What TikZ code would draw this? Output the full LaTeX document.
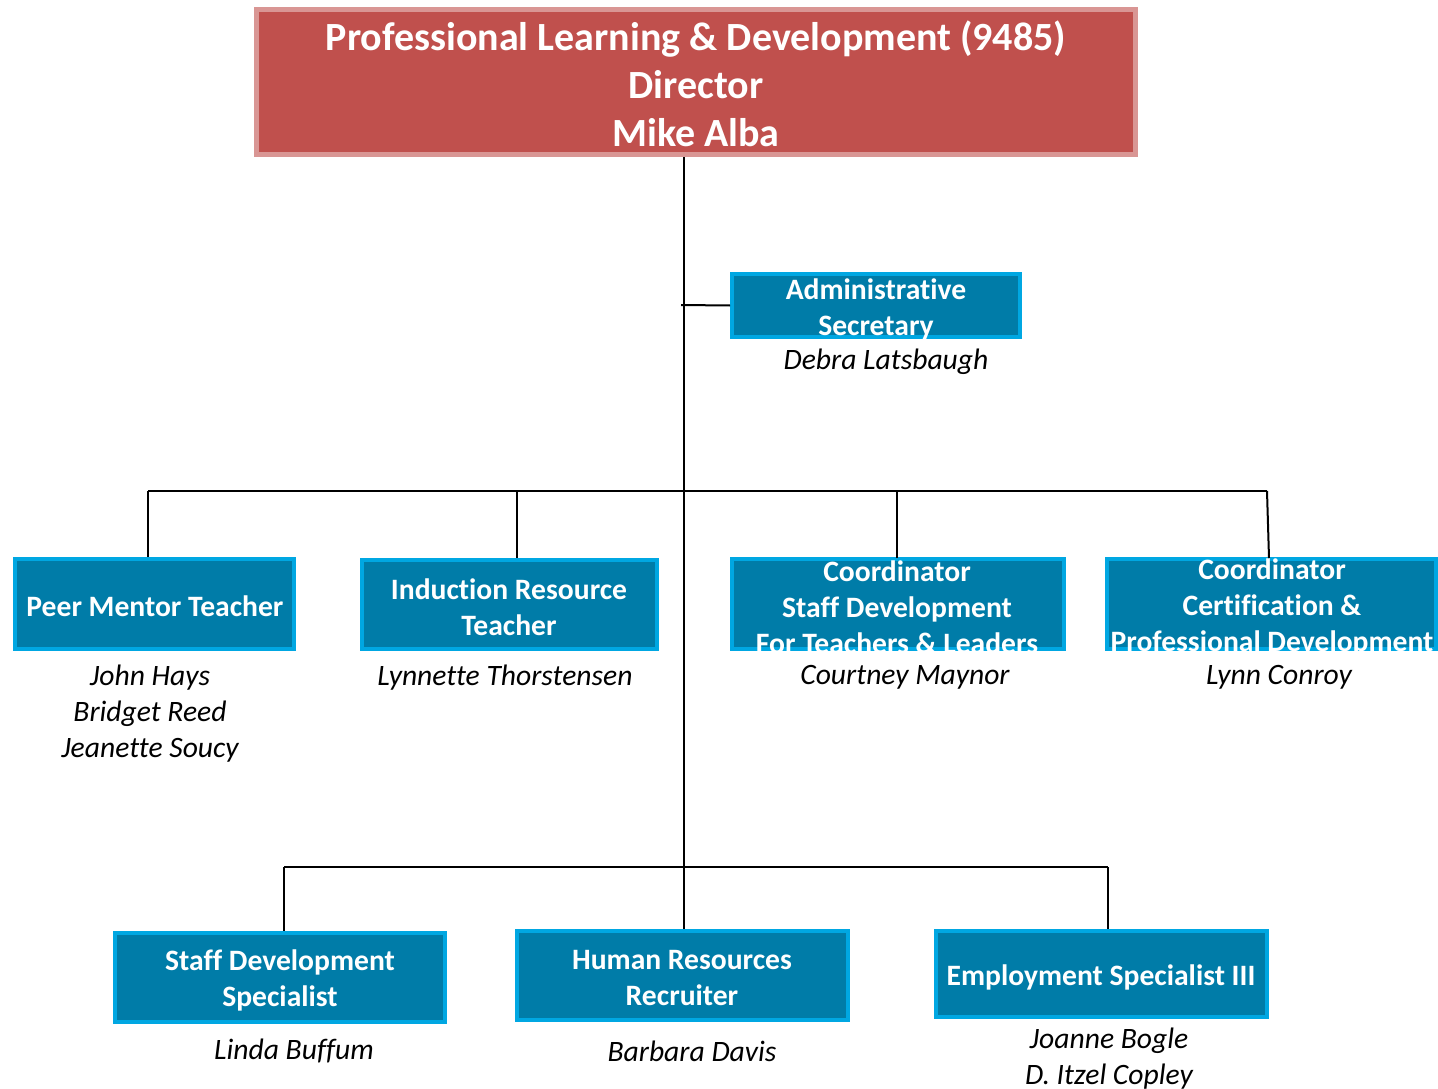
\documentclass[tikz,border=0pt]{standalone}
\usepackage{fontspec}
\setmainfont[Ligatures=NoCommon]{Carlito}
\definecolor{redfill}{RGB}{192,80,77}
\definecolor{redline}{RGB}{217,150,148}
\definecolor{bluefill}{RGB}{0,124,168}
\definecolor{blueline}{RGB}{0,167,226}
\begin{document}
\begin{tikzpicture}[x=1pt,y=-1pt,
  conn/.style={line width=2pt,black},
  bluebox/.style={draw=blueline,fill=bluefill,line width=4pt,inner sep=0pt,rectangle},
  boxtext/.style={text=white,font=\bfseries\fontsize{29.6}{36}\selectfont,align=center,inner sep=0pt},
  nametext/.style={text=black,font=\itshape\fontsize{29.6}{36}\selectfont,align=center,inner sep=0pt},
]
\useasboundingbox (0,0) rectangle (1438,1089);
% top box
\node[draw=redline,fill=redfill,line width=5pt,minimum width=879pt,minimum height=145pt,inner sep=0pt] (top) at (696,82) {};
\node[text=white,font=\bfseries\fontsize{40}{48}\selectfont,align=center,inner sep=0pt] (toptxt) at (696,84)
  {Professional Learning \& Development (9485)\\Director\\Mike Alba};
% blue boxes
\node[bluebox,minimum width=288pt,minimum height=63pt] (adm) at (876,305.5) {};
\node[boxtext] (admt) at (876,309) {Administrative\\Secretary};
\node[nametext] (admn) at (886,362) {Debra Latsbaugh};

\node[bluebox,minimum width=279pt,minimum height=90pt] (peer) at (154.5,604) {};
\node[boxtext] (peert) at (155,606) {Peer Mentor Teacher};
\node[nametext] (peern) at (150,714) {John Hays\\Bridget Reed\\Jeanette Soucy};

\node[bluebox,minimum width=295pt,minimum height=89pt] (ind) at (509.5,604.5) {};
\node[boxtext] (indt) at (509,607) {Induction Resource\\Teacher};
\node[nametext] (indn) at (505,678) {Lynnette Thorstensen};

\node[bluebox,minimum width=332pt,minimum height=90pt] (csd) at (898,604) {};
\node[boxtext] (csdt) at (897,607) {Coordinator\\Staff Development\\For Teachers \& Leaders};
\node[nametext] (csdn) at (905,677) {Courtney Maynor};

\node[bluebox,minimum width=329pt,minimum height=90pt] (cert) at (1271.5,604) {};
\node[boxtext] (certt) at (1272,607) {Coordinator\\Certification \&\\Professional Development};
\node[nametext] (certn) at (1279,677) {Lynn Conroy};

\node[bluebox,minimum width=330pt,minimum height=89pt] (sds) at (280,977.5) {};
\node[boxtext] (sdst) at (280,980.5) {Staff Development\\Specialist};
\node[nametext] (sdsn) at (294,1051) {Linda Buffum};

\node[bluebox,minimum width=331pt,minimum height=89pt] (hr) at (682.5,975.5) {};
\node[boxtext] (hrt) at (682,978.5) {Human Resources\\Recruiter};
\node[nametext] (hrn) at (692,1051) {Barbara Davis};

\node[bluebox,minimum width=331pt,minimum height=86pt] (emp) at (1101.5,974) {};
\node[boxtext] (empt) at (1101,977) {Employment Specialist III};
\node[nametext] (empn) at (1109,1059) {Joanne Bogle\\D. Itzel Copley};

% connectors
\coordinate (trunkbot) at (684,867);
\coordinate (bus1L) at (148,491);
\coordinate (bus1R) at (1267,491);
\coordinate (bus2L) at (284,867);
\coordinate (bus2R) at (1108,867);
\coordinate (admj) at (681,305);
\draw[conn] (top.south -| trunkbot) -- (trunkbot);
\draw[conn] (admj) -- (adm.west);
\draw[conn] (bus1L) -- (bus1R);
\draw[conn] (bus1L) -- (bus1L |- peer.north);
\draw[conn] (517,491) -- (517,558);
\draw[conn] (897,491) -- (897,558);
\draw[conn] (bus1R) -- (1269,558);
\draw[conn] (bus2L) -- (bus2R);
\draw[conn] (bus2L) -- (bus2L |- sds.north);
\draw[conn] (trunkbot) -- (trunkbot |- hr.north);
\draw[conn] (bus2R) -- (bus2R |- emp.north);
\end{tikzpicture}
\end{document}
